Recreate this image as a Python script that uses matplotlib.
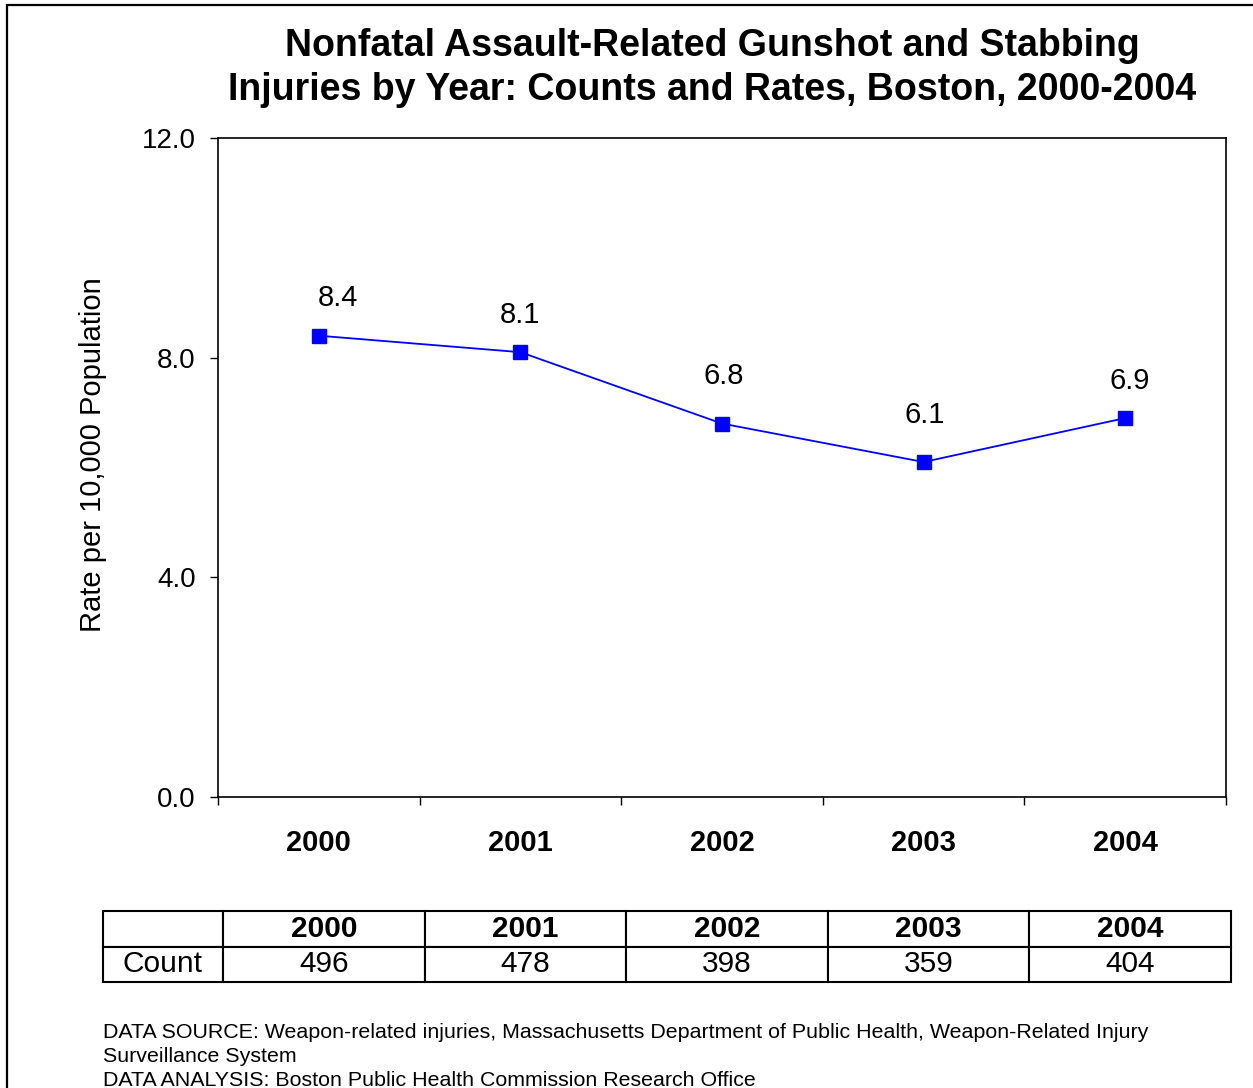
import matplotlib.pyplot as plt
import matplotlib.patches as mpatches
import numpy as np

plt.rcParams['font.family'] = ['Liberation Sans', 'DejaVu Sans']

years = ['2000', '2001', '2002', '2003', '2004']
rates = [8.4, 8.1, 6.8, 6.1, 6.9]
counts = [496, 478, 398, 359, 404]
yticks = [0.0, 4.0, 8.0, 12.0]

title = 'Nonfatal Assault-Related Gunshot and Stabbing\nInjuries by Year: Counts and Rates, Boston, 2000-2004'
ylabel = 'Rate per 10,000 Population'
footer = ('DATA SOURCE: Weapon-related injuries, Massachusetts Department of Public Health, Weapon-Related Injury\n'
          'Surveillance System\n'
          'DATA ANALYSIS: Boston Public Health Commission Research Office')

W, H = 1253, 1088
fig = plt.figure(figsize=(W / 100, H / 100), dpi=100)

# outer frame (only left and top edges visible in the original)
fig.patches.append(mpatches.Rectangle((7 / W, -0.05), 1.2, 1 - 5 / H + 0.05,
                                      transform=fig.transFigure, fill=False,
                                      edgecolor='black', linewidth=1.6))

ax = fig.add_axes([218 / W, 1 - 797 / H, (1226 - 218) / W, (797 - 138) / H])
x = np.arange(len(years))
ax.plot(x, rates, color='#0000ff', linewidth=1.3, marker='s', markersize=9.5,
        markerfacecolor='#0000ff', markeredgecolor='#0000ff')

# label offsets in points, as placed in the original
label_dx = [14, 0, 1, 1, 3]
label_dy = [27, 27, 34, 34, 27]
for xi, r, dx, dy in zip(x, rates, label_dx, label_dy):
    ax.annotate(f'{r:.1f}', (xi, r), xytext=(dx, dy), textcoords='offset points',
                ha='center', va='center', fontsize=21)

ax.set_xlim(-0.5, len(years) - 0.5)
ax.set_ylim(0, 12)
ax.set_yticks(yticks)
ax.set_yticklabels([f'{t:.1f}' for t in yticks], fontsize=20)
ax.set_xticks(np.arange(-0.5, len(years), 1.0))
ax.set_xticklabels([])
ax.set_xticks(x, minor=True)
ax.set_xticklabels(years, minor=True, fontsize=21, fontweight='bold')
ax.tick_params(axis='x', which='minor', length=0, pad=23)
ax.tick_params(axis='x', which='major', length=6, width=1, direction='out')
ax.tick_params(axis='y', length=6, width=1, direction='out', pad=10)
for s in ax.spines.values():
    s.set_linewidth(1.2)

fig.text(93 / W, 1 - 455 / H, ylabel, rotation=90, ha='center', va='center', fontsize=21)
fig.text(712 / W, 1 - 68 / H, title, ha='center', va='center', fontsize=27,
         fontweight='bold', linespacing=1.32)

# count table
tax = fig.add_axes([103 / W, 1 - 982 / H, (1231 - 103) / W, (982 - 911) / H])
tax.axis('off')
cell_text = [[''] + years, ['Count'] + [str(c) for c in counts]]
col_w = [120, 202, 201, 202, 201, 202]
tbl = tax.table(cellText=cell_text, bbox=[0, 0, 1, 1],
                colWidths=[c / sum(col_w) for c in col_w], cellLoc='center')
tbl.auto_set_font_size(False)
for (r, c), cell in tbl.get_celld().items():
    cell.set_linewidth(1.5)
    cell.set_text_props(fontsize=21.5, fontweight='bold' if r == 0 else 'normal')
    cell.PAD = 0.02

fig.text(103 / W, 1 - 1023.5 / H, footer, ha='left', va='top', fontsize=15.4, linespacing=1.3)

fig.savefig('out.png', dpi=100)
